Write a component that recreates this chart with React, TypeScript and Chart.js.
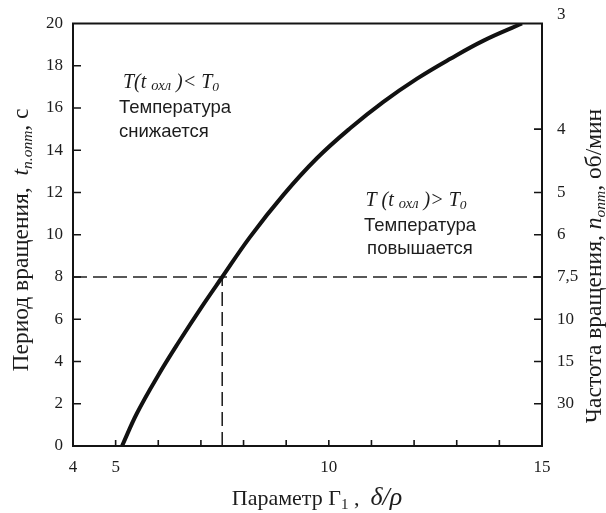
import { useEffect, useRef } from 'react';
import { Chart, registerables } from 'chart.js';

Chart.register(...registerables);

// Parameter Γ1 (δ/ρ) vs rotation period t (s)
const paramX = [5.15, 5.5, 6.0, 6.5, 7.0, 7.5, 8.15, 8.94, 9.72, 10.5, 11.28, 12.07, 12.85, 13.63, 14.53];
const periodT = [0, 1.55, 3.35, 4.98, 6.53, 8.0, 9.89, 11.9, 13.62, 15.04, 16.29, 17.39, 18.33, 19.19, 20];

// optimal-point guide lines
const hLineX = [4, 15];
const hLineY = [8, 8];
const vLineX = [7.5, 7.5];
const vLineY = [0, 8];

// axis ticks
const xLabelTicks = [4, 5, 10, 15];
const xMinorTicks = [5, 6, 7, 8, 9, 10, 11, 12, 13, 14];
const yTicks = [0, 2, 4, 6, 8, 10, 12, 14, 16, 18, 20];
const rightTickPeriod = [20, 15, 12, 10, 8, 6, 4, 2];
const rightTickLabels = ['3', '4', '5', '6', '7,5', '10', '15', '30'];

type Run = { t: string; f: string; dy?: number };

function drawRuns(ctx: CanvasRenderingContext2D, runs: Run[], x: number, y: number, align: 'left' | 'center') {
  let total = 0;
  const widths = runs.map((r) => {
    ctx.font = r.f;
    const w = ctx.measureText(r.t).width;
    total += w;
    return w;
  });
  let cx = align === 'center' ? x - total / 2 : x;
  ctx.textAlign = 'left';
  ctx.textBaseline = 'alphabetic';
  runs.forEach((r, i) => {
    ctx.font = r.f;
    ctx.fillText(r.t, cx, y + (r.dy || 0));
    cx += widths[i];
  });
}

const SERIF = '"Liberation Serif", "Times New Roman", serif';
const SANS = '"Liberation Sans", Arial, sans-serif';

const decorPlugin = {
  id: 'decor',
  afterDraw(chart: any) {
    const ctx: CanvasRenderingContext2D = chart.ctx;
    const { left, right, top, bottom } = chart.chartArea;
    const sx = chart.scales.x;
    const sy = chart.scales.y;
    const sy2 = chart.scales.y2;
    ctx.save();
    ctx.strokeStyle = '#141414';
    ctx.lineWidth = 2;
    ctx.strokeRect(left, top, right - left, bottom - top);
    ctx.lineWidth = 1.6;
    ctx.beginPath();
    yTicks.slice(1, -1).forEach((v) => {
      const p = sy.getPixelForValue(v);
      ctx.moveTo(left, p);
      ctx.lineTo(left + 8, p);
    });
    rightTickPeriod.slice(1).forEach((v) => {
      const p = sy2.getPixelForValue(v);
      ctx.moveTo(right, p);
      ctx.lineTo(right - 8, p);
    });
    xMinorTicks.forEach((v) => {
      const p = sx.getPixelForValue(v);
      ctx.moveTo(p, bottom);
      ctx.lineTo(p, bottom - 6);
    });
    ctx.stroke();

    ctx.fillStyle = '#1c1c1c';
    // left title
    ctx.save();
    ctx.translate(28, 240);
    ctx.rotate(-Math.PI / 2);
    drawRuns(ctx, [
      { t: 'Период вращения,  ', f: `23.5px ${SERIF}` },
      { t: 't', f: `italic 23.5px ${SERIF}` },
      { t: 'п.опт', f: `italic 15.5px ${SERIF}`, dy: 4 },
      { t: ', с', f: `23.5px ${SERIF}` },
    ], 0, 0, 'center');
    ctx.restore();
    // right title
    ctx.save();
    ctx.translate(601, 266);
    ctx.rotate(-Math.PI / 2);
    drawRuns(ctx, [
      { t: 'Частота вращения, ', f: `23.5px ${SERIF}` },
      { t: 'n', f: `italic 23.5px ${SERIF}` },
      { t: 'опт', f: `italic 15.5px ${SERIF}`, dy: 4 },
      { t: ', об/мин', f: `23.5px ${SERIF}` },
    ], 0, 0, 'center');
    ctx.restore();
    // bottom title
    drawRuns(ctx, [
      { t: 'Параметр Г', f: `22px ${SERIF}` },
      { t: '1', f: `15px ${SERIF}`, dy: 4 },
      { t: ' ,  ', f: `22px ${SERIF}` },
      { t: 'δ/ρ', f: `italic 26px ${SERIF}` },
    ], 317, 505, 'center');

    // annotation 1
    drawRuns(ctx, [
      { t: 'T(t ', f: `italic 20px ${SERIF}` },
      { t: 'охл', f: `italic 14.5px ${SERIF}`, dy: 2 },
      { t: ' )< T', f: `italic 20px ${SERIF}` },
      { t: '0', f: `italic 13.5px ${SERIF}`, dy: 3 },
    ], 123, 88, 'left');
    ctx.font = `18.5px ${SANS}`;
    ctx.fillText('Температура', 119, 113);
    ctx.fillText('снижается', 119, 137);

    // annotation 2
    drawRuns(ctx, [
      { t: 'T (t ', f: `italic 20px ${SERIF}` },
      { t: 'охл', f: `italic 14.5px ${SERIF}`, dy: 2 },
      { t: ' )> T', f: `italic 20px ${SERIF}` },
      { t: '0', f: `italic 13.5px ${SERIF}`, dy: 3 },
    ], 416, 206, 'center');
    ctx.font = `18.5px ${SANS}`;
    ctx.textAlign = 'center';
    ctx.fillText('Температура', 420, 231);
    ctx.fillText('повышается', 420, 254);
    ctx.restore();
  },
};

export default function App() {
  const ref = useRef<HTMLCanvasElement | null>(null);
  useEffect(() => {
    document.body.style.margin = '0';
    if (!ref.current) return;
    const tickFont = { family: SERIF, size: 17 };
    const chart = new Chart(ref.current, {
      type: 'line',
      data: {
        datasets: [
          {
            data: paramX.map((x, i) => ({ x, y: periodT[i] })),
            borderColor: '#111',
            borderWidth: 4,
            pointRadius: 0,
            tension: 0.4,
            fill: false,
            order: 0,
          },
          {
            data: hLineX.map((x, i) => ({ x, y: hLineY[i] })),
            borderColor: '#222',
            borderWidth: 1.6,
            borderDash: [14, 6],
            pointRadius: 0,
            fill: false,
            order: 1,
          },
          {
            data: vLineX.map((x, i) => ({ x, y: vLineY[i] })),
            borderColor: '#222',
            borderWidth: 1.6,
            borderDash: [14, 6],
            pointRadius: 0,
            fill: false,
            order: 1,
          },
        ],
      },
      options: {
        animation: false,
        responsive: false,
        maintainAspectRatio: false,
        layout: { padding: { top: 20, left: 0, right: 0, bottom: 0 } },
        plugins: { legend: { display: false }, tooltip: { enabled: false } },
        scales: {
          x: {
            type: 'linear',
            min: 4,
            max: 15,
            position: 'bottom',
            grid: { display: false, drawTicks: false },
            border: { display: false },
            ticks: { font: tickFont, color: '#1c1c1c', padding: 11, maxRotation: 0 },
            afterBuildTicks: (s: any) => {
              s.ticks = xLabelTicks.map((value) => ({ value }));
            },
            afterFit: (s: any) => {
              s.height = 67;
            },
          },
          y: {
            type: 'linear',
            min: 0,
            max: 20,
            position: 'left',
            grid: { display: false, drawTicks: false },
            border: { display: false },
            ticks: { font: tickFont, color: '#1c1c1c', padding: 10 },
            afterBuildTicks: (s: any) => {
              s.ticks = yTicks.map((value) => ({ value }));
            },
            afterFit: (s: any) => {
              s.width = 73;
            },
          },
          y2: {
            type: 'linear',
            min: 0,
            max: 20,
            position: 'right',
            grid: { display: false, drawTicks: false },
            border: { display: false },
            ticks: {
              font: { family: SERIF, size: 17, lineHeight: 1.0 },
              color: '#1c1c1c',
              padding: 15,
              callback: (v: any) => {
                const i = rightTickPeriod.indexOf(Number(v));
                if (i < 0) return '';
                return i === 0 ? [rightTickLabels[i], ''] : rightTickLabels[i];
              },
            },
            afterBuildTicks: (s: any) => {
              s.ticks = rightTickPeriod.map((value) => ({ value }));
            },
            afterFit: (s: any) => {
              s.width = 64;
            },
          },
        },
      },
      plugins: [decorPlugin],
    } as any);
    return () => chart.destroy();
  }, []);
  return <canvas ref={ref} width={606} height={513} style={{ display: 'block' }} />;
}
